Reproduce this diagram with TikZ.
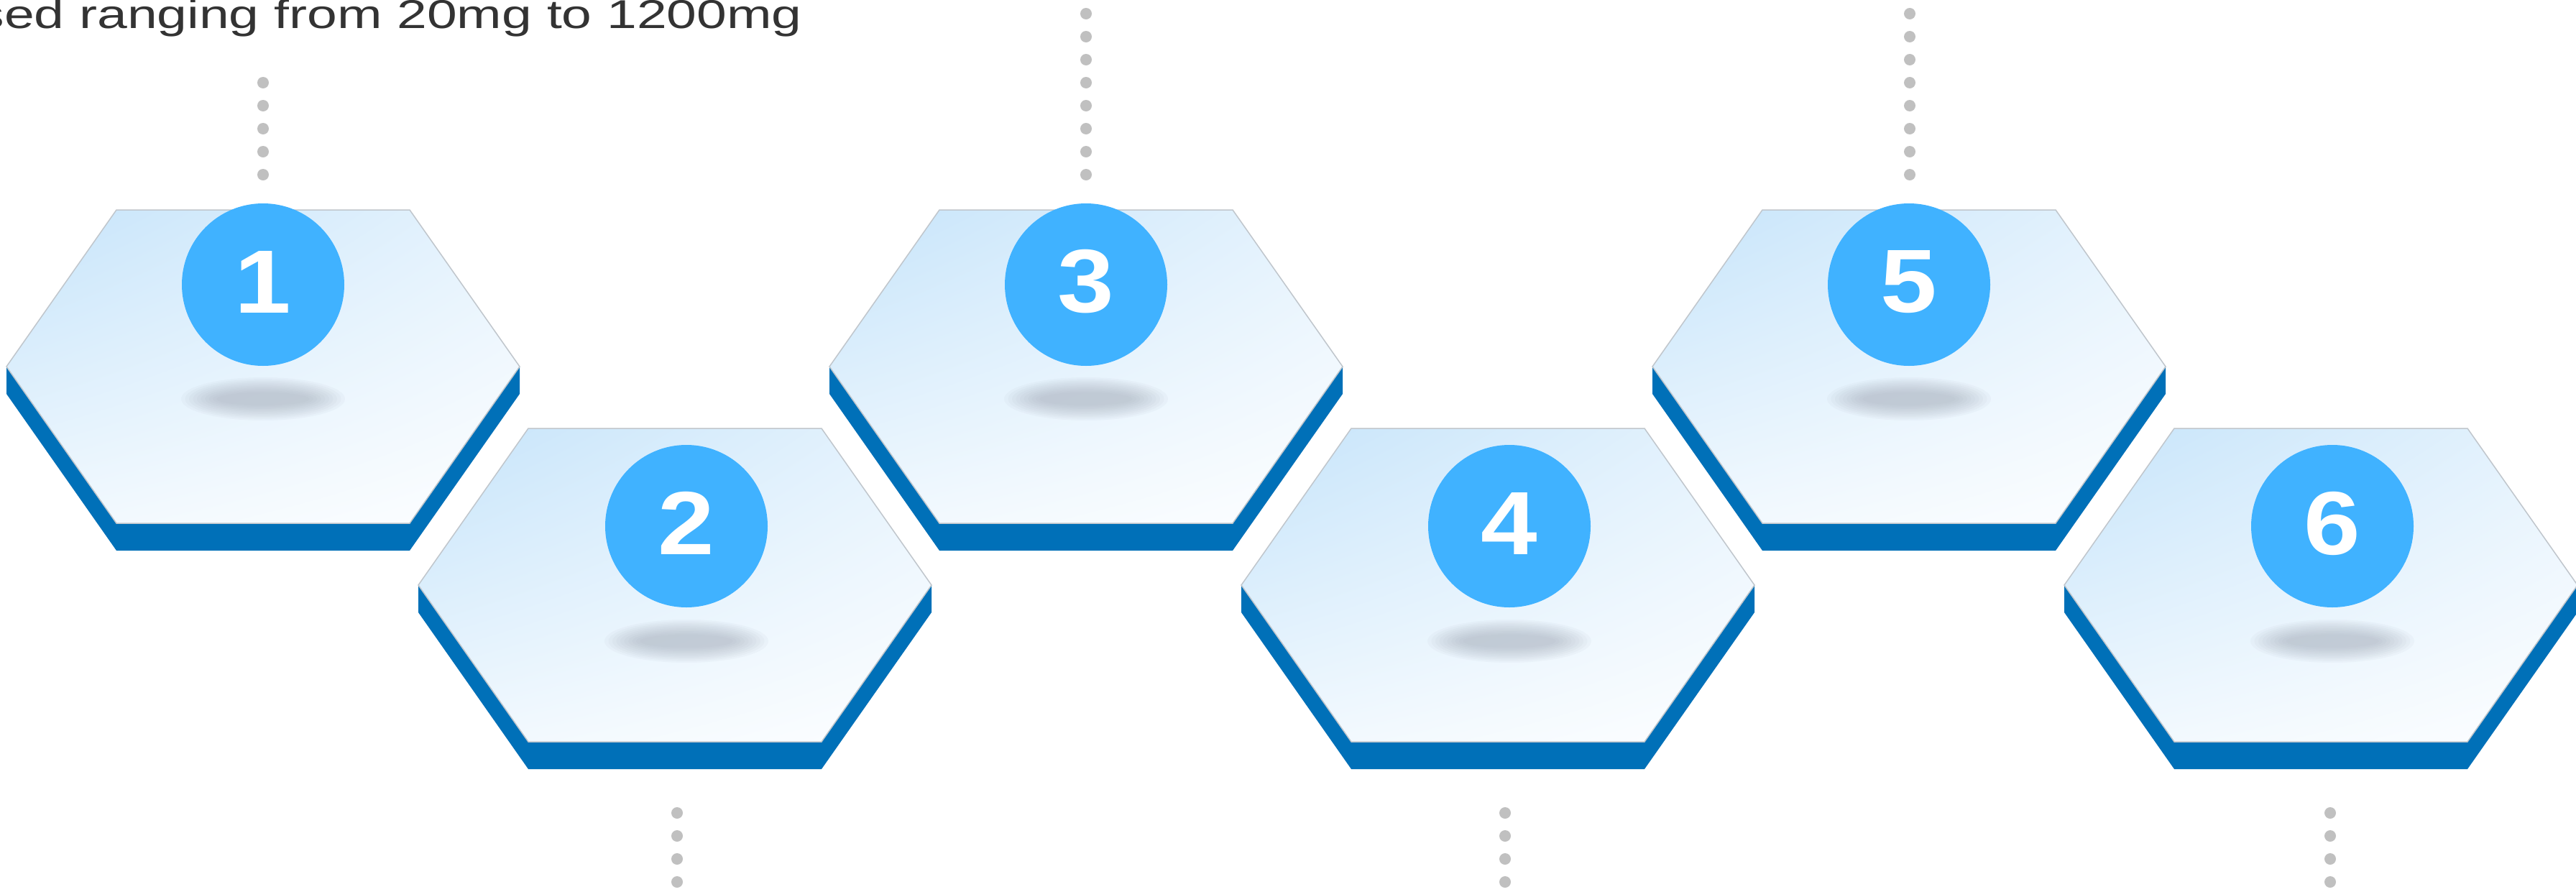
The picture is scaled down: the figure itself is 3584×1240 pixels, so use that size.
\documentclass[tikz,border=0pt]{standalone}
\usepackage{fontspec}
\setmainfont{Liberation Sans}
\usetikzlibrary{calc,shadings}
\definecolor{hexblue}{RGB}{0,112,184}
\definecolor{circblue}{RGB}{64,178,255}
\definecolor{dotgray}{RGB}{192,192,192}
\definecolor{txtgray}{RGB}{51,51,51}
\definecolor{edgegray}{RGB}{192,198,204}
\definecolor{shadowgray}{RGB}{150,158,172}
\definecolor{faceUL}{RGB}{198,228,250}
\definecolor{faceUR}{RGB}{230,243,253}
\definecolor{faceLL}{RGB}{240,248,254}
\definecolor{faceLR}{RGB}{253,254,255}
\tikzset{
  numcircle/.style={circle, fill=circblue, minimum size=226pt, inner sep=0pt,
    text=white, font=\fontsize{125}{125}\selectfont\bfseries},
  dotline/.style={draw=dotgray, line width=16pt, line cap=round, dash pattern=on 0pt off 32pt},
  sideface/.style={fill=hexblue},
  topface/.style={draw=edgegray, line width=1.5pt,
    upper left=faceUL, upper right=faceUR, lower left=faceLL, lower right=faceLR},
  shadowlayer/.style={fill=shadowgray, fill opacity=0.06},
  titletext/.style={inner sep=0pt, text=txtgray, font=\fontsize{56}{60}\selectfont},
}
\newcommand{\numtext}[1]{\raisebox{4pt}[\height][\depth]{\scalebox{1.13}[1]{#1}}}
% #1 centre x, #2 top y
\newcommand{\hexplate}[2]{%
  \fill[sideface] (#1-357,#2+218) -- (#1-357,#2+256) -- (#1-204,#2+474) -- (#1+204,#2+474)
     -- (#1+357,#2+256) -- (#1+357,#2+218) -- (#1+204,#2+436) -- (#1-204,#2+436) -- cycle;
  \shade[topface] (#1-204,#2) -- (#1+204,#2) -- (#1+357,#2+218) -- (#1+204,#2+436)
     -- (#1-204,#2+436) -- (#1-357,#2+218) -- cycle;
}
% #1 centre x, #2 centre y
\newcommand{\hexshadow}[2]{%
  \foreach \k [evaluate=\k as \rx using 114-5.5*\k, evaluate=\k as \ry using 30-2.3*\k] in {0,...,9}{
    \fill[shadowlayer] (#1,#2) ellipse (\rx pt and \ry pt);
  }
}
\begin{document}
\begin{tikzpicture}[x=1pt,y=-1pt]
\useasboundingbox (0,0) rectangle (3584,1240);
\fill[white] (0,0) rectangle (3584,1240);

% title text (cut at the left and top)
\node[titletext, anchor=base east] (title) at (1116,39) {\scalebox{1.34}[1]{sed ranging from 20mg to 1200mg}};

% hexagon plates
\hexplate{366}{292}
\hexplate{1511}{292}
\hexplate{2656}{292}
\hexplate{939}{596}
\hexplate{2084}{596}
\hexplate{3229}{596}

% shadows
\hexshadow{366}{555}
\hexshadow{1511}{555}
\hexshadow{2656}{555}
\hexshadow{955}{892}
\hexshadow{2100}{892}
\hexshadow{3245}{892}

% number circles
\node[numcircle] (c1) at (366,396) {\numtext{1}};
\node[numcircle] (c3) at (1511,396) {\numtext{3}};
\node[numcircle] (c5) at (2656,396) {\numtext{5}};
\node[numcircle] (c2) at (955,732) {\numtext{2}};
\node[numcircle] (c4) at (2100,732) {\numtext{4}};
\node[numcircle] (c6) at (3245,732) {\numtext{6}};

% dotted connectors
\coordinate (u1a) at (366,243);  \coordinate (u1b) at (366,114);
\coordinate (u3a) at (1511,243); \coordinate (u3b) at (1511,-14);
\coordinate (u5a) at (2657,243); \coordinate (u5b) at (2657,-14);
\coordinate (l2a) at (942,1131); \coordinate (l2b) at (942,1262);
\coordinate (l4a) at (2094,1131); \coordinate (l4b) at (2094,1262);
\coordinate (l6a) at (3242,1131); \coordinate (l6b) at (3242,1262);
\draw[dotline] (u1a) -- (u1b);
\draw[dotline] (u3a) -- (u3b);
\draw[dotline] (u5a) -- (u5b);
\draw[dotline] (l2a) -- (l2b);
\draw[dotline] (l4a) -- (l4b);
\draw[dotline] (l6a) -- (l6b);
\end{tikzpicture}
\end{document}
